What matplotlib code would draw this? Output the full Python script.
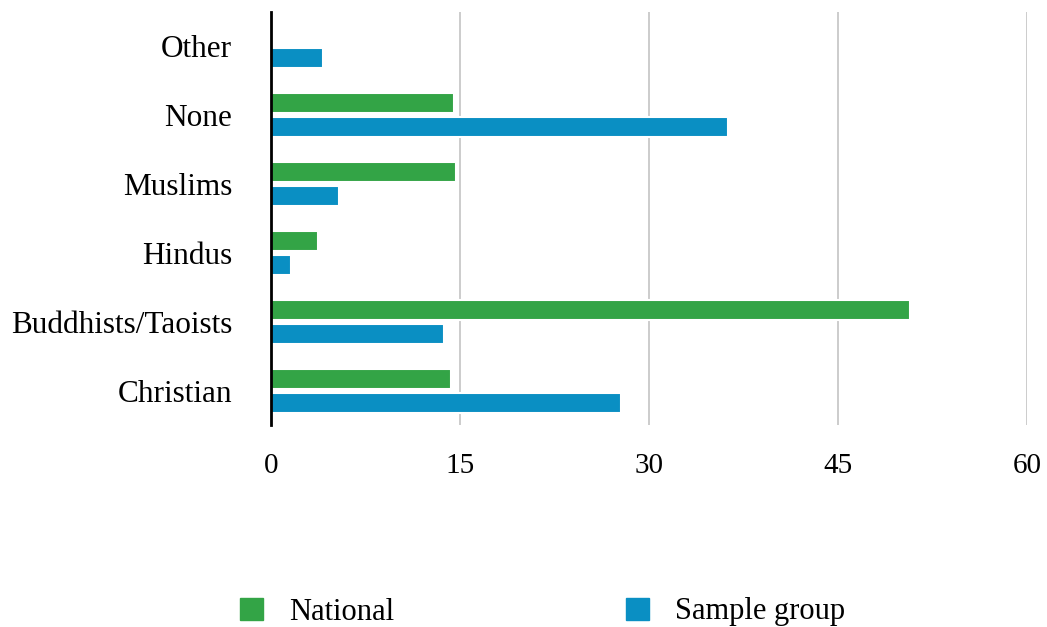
import numpy as np
import matplotlib.pyplot as plt
from matplotlib.patches import Patch

categories = ["Christian", "Buddhists/Taoists", "Hindus", "Muslims", "None", "Other"]
national = [14.3, 50.7, 3.7, 14.7, 14.5, 0]
sample = [27.8, 13.7, 1.6, 5.4, 36.3, 4.1]
xticks = [0, 15, 30, 45, 60]

green = "#33a446"
blue = "#0a8fc3"

plt.rcParams['font.family'] = ['Liberation Serif', 'DejaVu Serif']

dpi = 100
fig = plt.figure(figsize=(1047/dpi, 627/dpi), dpi=dpi)
ax = fig.add_axes([271/1047, 1-425/627, (1027-271)/1047, (425-12)/627])

y = np.arange(len(categories))
off = 0.174
h = 0.29
ax.barh(y + off, national, height=h, color=green, edgecolor="white", linewidth=1.5, zorder=3)
ax.barh(y - off, sample, height=h, color=blue, edgecolor="white", linewidth=1.5, zorder=3)

ax.set_xlim(0, 60)
ax.set_ylim(-0.5, len(categories) - 0.5)
ax.set_xticks(xticks)
ax.set_xticklabels([str(v) for v in xticks], fontsize=21)
ax.set_yticks(y)
ax.set_yticklabels(categories, fontsize=22.5)
ax.tick_params(axis="x", length=0, pad=20)
ax.tick_params(axis="y", length=0, pad=28)

ax.xaxis.grid(True, color="#c8c8c8", linewidth=1.3, zorder=1)
ax.set_axisbelow(True)
for s in ["top", "right", "bottom"]:
    ax.spines[s].set_visible(False)
ax.spines["left"].set_linewidth(2)
ax.spines["left"].set_color("black")
ax.spines["left"].set_zorder(5)

handles = [Patch(color=green, label="National"), Patch(color=blue, label="Sample group")]
fig.legend(handles=handles, loc="center left", bbox_to_anchor=(240/1047, 1-612/627), ncol=2,
           frameon=False, fontsize=22, handlelength=0.75, handleheight=0.75,
           handletextpad=0.85, columnspacing=7.6, borderpad=0, borderaxespad=0)

fig.savefig("out.png", dpi=dpi)
